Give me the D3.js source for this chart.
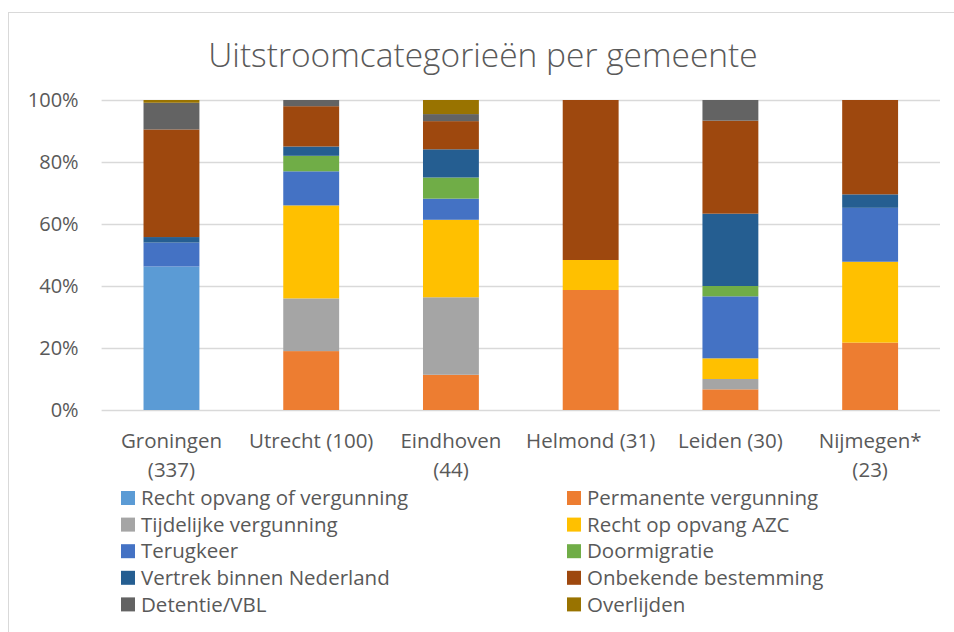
<!DOCTYPE html>
<html>
<head>
<meta charset="utf-8">
<script src="https://cdn.jsdelivr.net/npm/d3@7"></script>
<style>
  body { margin: 0; background: #fff; }
  svg { display: block; font-family: "Open Sans", sans-serif; }
</style>
</head>
<body>
<svg width="954" height="632"></svg>
<script>
// gemeenten + aantallen per uitstroomcategorie
var gemeenten = ["Groningen", "Utrecht", "Eindhoven", "Helmond", "Leiden", "Nijmegen"];
var tickLines = [["Groningen", "(337)"], ["Utrecht (100)"], ["Eindhoven", "(44)"], ["Helmond (31)"], ["Leiden (30)"], ["Nijmegen*", "(23)"]];

var rechtOpvang  = [156, 0, 0, 0, 0, 0];
var permanente   = [0, 19, 5, 12, 2, 5];
var tijdelijke   = [0, 17, 11, 0, 1, 0];
var opvangAzc    = [0, 30, 11, 3, 2, 6];
var terugkeer    = [26, 11, 3, 0, 6, 4];
var doormigratie = [0, 5, 3, 0, 1, 0];
var vertrek      = [6, 3, 4, 0, 7, 1];
var onbekend     = [117, 13, 4, 16, 9, 7];
var detentie     = [29, 2, 1, 0, 2, 0];
var overlijden   = [3, 0, 2, 0, 0, 0];

var seriesNames = ["Recht opvang of vergunning", "Permanente vergunning", "Tijdelijke vergunning", "Recht op opvang AZC",
  "Terugkeer", "Doormigratie", "Vertrek binnen Nederland", "Onbekende bestemming", "Detentie/VBL", "Overlijden"];
var seriesValues = [rechtOpvang, permanente, tijdelijke, opvangAzc, terugkeer, doormigratie, vertrek, onbekend, detentie, overlijden];
var yTicks = [0, 0.2, 0.4, 0.6, 0.8, 1];

var colors = ["#5b9bd5", "#ed7d31", "#a5a5a5", "#ffc000", "#4472c4", "#70ad47", "#255e91", "#9e480e", "#636363", "#997300"];

// build table for d3.stack
var data = gemeenten.map(function(g, i) {
  var row = {gemeente: g};
  seriesNames.forEach(function(s, j) { row[s] = seriesValues[j][i]; });
  return row;
});

var svg = d3.select("svg");
var textColor = "#595959";

// chart border
svg.append("rect")
  .attr("x", 8.5).attr("y", 12.5)
  .attr("width", 1000).attr("height", 700)
  .attr("fill", "none").attr("stroke", "#d9d9d9");

svg.append("text")
  .attr("x", 483).attr("y", 67)
  .attr("text-anchor", "middle")
  .attr("fill", textColor)
  .attr("font-size", 33.5)
  .attr("font-weight", 300)
  .text("Uitstroomcategorieën per gemeente");

var x = d3.scaleBand()
  .domain(gemeenten)
  .range([101.6, 940])
  .paddingInner(0.6)
  .paddingOuter(0.3);

var y = d3.scaleLinear()
  .domain([0, 1])
  .range([410, 100]);

// gridlines
svg.append("g")
  .selectAll("line")
  .data(yTicks)
  .enter().append("line")
    .attr("x1", 101.6).attr("x2", 940)
    .attr("y1", function(d) { return Math.round(y(d)) + 0.5; })
    .attr("y2", function(d) { return Math.round(y(d)) + 0.5; })
    .attr("stroke", "#d9d9d9")
    .attr("stroke-width", 1.5);

var yAxis = svg.append("g")
  .attr("transform", "translate(101.6,0)")
  .call(d3.axisLeft(y).tickValues(yTicks).tickFormat(d3.format(".0%")).tickSize(0).tickPadding(23));
yAxis.select(".domain").remove();
yAxis.selectAll("text").attr("fill", textColor).attr("font-size", 20).attr("font-family", "Open Sans, sans-serif");

var stacked = d3.stack().keys(seriesNames).offset(d3.stackOffsetExpand)(data);

svg.append("g")
  .selectAll("g")
  .data(stacked)
  .enter().append("g")
    .attr("fill", function(d, i) { return colors[i]; })
  .selectAll("rect")
  .data(function(d) { return d; })
  .enter().append("rect")
    .attr("x", function(d) { return x(d.data.gemeente); })
    .attr("y", function(d) { return y(d[1]); })
    .attr("height", function(d) { return y(d[0]) - y(d[1]); })
    .attr("width", x.bandwidth());

// x labels, wrapped like excel
var xl = svg.append("g")
  .selectAll("text")
  .data(gemeenten)
  .enter().append("text")
    .attr("text-anchor", "middle")
    .attr("fill", textColor)
    .attr("font-size", 20.5)
    .attr("transform", function(d) { return "translate(" + (x(d) + x.bandwidth() / 2) + ",448)"; });
xl.selectAll("tspan")
  .data(function(d, i) { return tickLines[i]; })
  .enter().append("tspan")
    .attr("x", 0)
    .attr("y", function(d, i) { return i * 28.5; })
    .text(function(d) { return d; });

// legend, 2 columns
var legend = svg.append("g")
  .selectAll("g")
  .data(seriesNames)
  .enter().append("g")
    .attr("transform", function(d, i) {
      var col = i % 2, row = Math.floor(i / 2);
      return "translate(" + (col ? 567 : 121) + "," + (491 + row * 26.6) + ")";
    });

legend.append("rect")
  .attr("width", 14).attr("height", 14)
  .attr("fill", function(d, i) { return colors[i]; });

legend.append("text")
  .attr("x", 20)
  .attr("y", 7)
  .attr("dy", "0.35em")
  .attr("fill", textColor)
  .attr("font-size", 20.5)
  .text(function(d) { return d; });
</script>
</body>
</html>
